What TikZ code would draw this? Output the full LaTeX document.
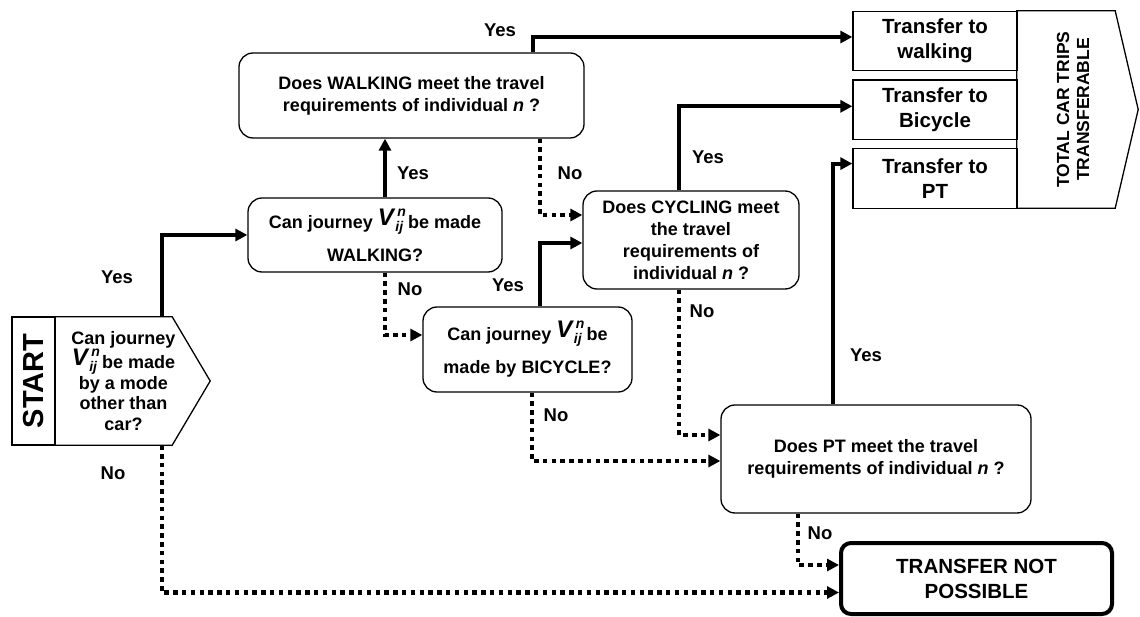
\documentclass[tikz,border=0pt]{standalone}
\usepackage{amsmath}
\usepackage{fontspec}
\setmainfont{Liberation Sans}
\usetikzlibrary{shapes,arrows.meta,positioning}

% journey symbol V_ij^n
\newcommand{\Vij}{\raisebox{3pt}{\fontsize{24}{24}\selectfont\itshape V}{\fontsize{14}{14}\selectfont\itshape\rlap{\kern3.5pt\raisebox{12pt}{n}}\kern1.5pt\raisebox{-3pt}{ij}}}

\begin{document}
\begin{tikzpicture}[x=1pt, y=-1pt]
        \tikzstyle{qbox} = [rectangle, draw, rounded corners=14pt, line width=1.3pt, align=center, inner sep=0pt, font=\fontsize{18}{22}\selectfont\bfseries]
        \tikzstyle{tbox} = [rectangle, draw, line width=1.3pt, align=center, inner sep=0pt, minimum width=164, minimum height=59.5, font=\fontsize{20.5}{25}\selectfont\bfseries]
        \tikzstyle{line} = [draw, line width=4pt, -{Triangle[length=12pt, width=12pt]}]
        \tikzstyle{noline} = [line, line width=4.5pt, dash pattern=on 4.5pt off 4.3pt]
        \tikzstyle{lbl} = [font=\fontsize{18.5}{18.5}\selectfont\bfseries]

        \useasboundingbox (0,0) rectangle (1140,617);

        % start
        \node [rectangle, draw, line width=1.3pt, minimum width=43, minimum height=128, inner sep=0pt] (start) at (33.5,381) {\rotatebox{90}{\fontsize{29}{29}\selectfont\bfseries START}};
        \node [align=center, inner sep=0pt, minimum width=137, minimum height=128, font=\fontsize{18}{20.5}\selectfont\bfseries] (startq) at (123.5,381) {Can journey\\ \Vij\ be made\\ by a mode\\ other than\\ car?};
        \draw [line width=1.3pt] (startq.north west) -- ([xshift=-20pt]startq.north east) -- ([xshift=18pt]startq.east) -- ([xshift=-20pt]startq.south east) -- (startq.south west);

        % questions
        \node [qbox, minimum width=254, minimum height=74, font=\fontsize{18}{33}\selectfont\bfseries] (walkq) at (375,235) {Can journey \Vij\ be made\\ WALKING?};
        \node [qbox, minimum width=209, minimum height=85, font=\fontsize{18}{33}\selectfont\bfseries] (bicq) at (527.5,349.5) {Can journey \Vij\ be\\ made by BICYCLE?};
        \node [qbox, minimum width=345, minimum height=85] (walkm) at (411.5,95.5) {Does WALKING meet the travel\\ requirements of individual \textit{n} ?};
        \node [qbox, minimum width=216, minimum height=98] (cycm) at (691,240) {Does CYCLING meet\\ the travel\\ requirements of\\ individual \textit{n} ?};
        \node [qbox, minimum width=310, minimum height=108] (ptm) at (876,459) {Does PT meet the travel\\ requirements of individual \textit{n} ?};
        \node [qbox, line width=4pt, rounded corners=10pt, minimum width=271, minimum height=71, font=\fontsize{20.5}{25}\selectfont\bfseries] (tnp) at (976.5,578.5) {TRANSFER NOT\\ POSSIBLE};

        % transfers
        \node [tbox] (trW) at (935,41) {Transfer to\\ walking};
        \node [tbox, below=8pt of trW] (trB) {Transfer to\\ Bicycle};
        \node [tbox, below=8pt of trB] (trP) {Transfer to\\ PT};
        \node [rectangle, inner sep=0pt, minimum width=116, minimum height=197] (total) at (1075,109.5) {\rotatebox{90}{\fontsize{17.5}{20}\selectfont\bfseries\begin{tabular}{@{}c@{}}TOTAL CAR TRIPS\\ TRANSFERABLE\end{tabular}}};
        \draw [line width=1.3pt] (total.north west) -- ([xshift=-18pt]total.north east) -- ([xshift=5pt]total.east) -- ([xshift=-18pt]total.south east) -- (total.south west) -- cycle;

        % columns of the connectors
        \coordinate (colS) at (162,0);
        \coordinate (colWq) at (385,0);
        \coordinate (colWm) at (533,0);
        \coordinate (colC) at (540,0);
        \coordinate (colBn) at (532,0);
        \coordinate (colCy) at (679,0);
        \coordinate (colPy) at (833,0);
        \coordinate (colPn) at (798,0);

        \path [line] (startq.north -| colS) |- (walkq.west);
        \path [noline] (startq.south -| colS) |- ([yshift=-14pt]tnp.west);
        \path [line] (walkq.north -| colWq) -- (walkm.south -| colWq);
        \path [noline] (walkq.south -| colWq) |- ([yshift=14.5pt]bicq.west);
        \path [line] (walkm.north -| colWm) |- ([yshift=4pt]trW.west);
        \path [noline] (walkm.south -| colC) |- ([yshift=25pt]cycm.west);
        \path [line] (bicq.north -| colC) |- ([yshift=-3pt]cycm.west);
        \path [noline] (bicq.south -| colBn) |- ([yshift=-2pt]ptm.west);
        \path [line] (cycm.north -| colCy) |- ([yshift=3.5pt]trB.west);
        \path [noline] (cycm.south -| colCy) |- ([yshift=24pt]ptm.west);
        \path [line] (ptm.north -| colPy) |- ([yshift=15pt]trP.west);
        \path [noline] (ptm.south -| colPn) |- ([yshift=13.5pt]tnp.west);

        % yes / no
        \node [lbl] (yS) at (117,277) {Yes};
        \node [lbl] (nS) at (113,473) {No};
        \node [lbl] (yWq) at (413,173) {Yes};
        \node [lbl] (nWq) at (410,289) {No};
        \node [lbl] (yWm) at (500,30) {Yes};
        \node [lbl] (nWm) at (570,173) {No};
        \node [lbl] (yB) at (508,285) {Yes};
        \node [lbl] (nB) at (556,415) {No};
        \node [lbl] (yC) at (708,157) {Yes};
        \node [lbl] (nC) at (702,311) {No};
        \node [lbl] (yP) at (866,355) {Yes};
        \node [lbl] (nP) at (820,533) {No};
    \end{tikzpicture}
\end{document}
